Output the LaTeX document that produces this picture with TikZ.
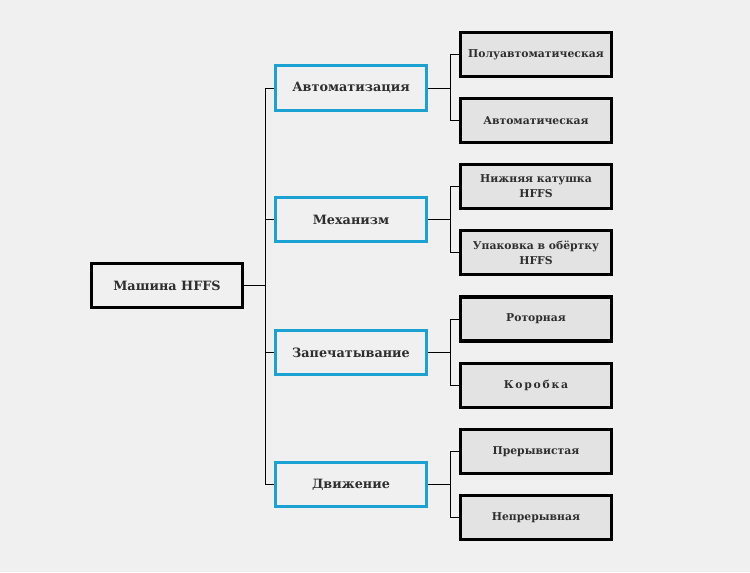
\documentclass[tikz,border=0pt]{standalone}
\usepackage{fontspec}
\setmainfont{DejaVu Serif}
\definecolor{pagegray}{HTML}{F0F0F0}
\definecolor{leafgray}{HTML}{E3E3E3}
\definecolor{branchblue}{HTML}{1BA1D2}
\definecolor{inkgray}{HTML}{2E2E2E}

\begin{document}
\begin{tikzpicture}[
  x=0.75pt,
  y=-0.75pt,
  line join=miter,
  rootbox/.style={draw=black,line width=2.4pt,fill=pagegray,text=inkgray,
    minimum width=113.5pt,minimum height=33.2pt,inner sep=0pt,
    font=\bfseries\fontsize{9.6}{11}\selectfont},
  branchbox/.style={draw=branchblue,line width=2.4pt,fill=pagegray,text=inkgray,
    minimum width=113.5pt,minimum height=33.2pt,inner sep=0pt,
    font=\bfseries\fontsize{9.6}{11}\selectfont},
  leafbox/.style={draw=black,line width=2.4pt,fill=leafgray,text=inkgray,
    minimum width=113.5pt,minimum height=33pt,inner sep=0pt,align=center,
    font=\bfseries\fontsize{8.1}{11.2}\selectfont},
  link/.style={draw=black,line width=0.7pt}
]
  % Page and margins.
  \fill[pagegray] (0,0) rectangle (750,572);
  \useasboundingbox (0,0) rectangle (750,572);

  % Root and the four branches.
  \node[rootbox] (machine) at (167,285.5) {Машина HFFS};
  \node[branchbox] (auto) at (351,88) {Автоматизация};
  \node[branchbox] (mech) at (351,219.5) {Механизм};
  \node[branchbox] (seal) at (351,352.5) {Запечатывание};
  \node[branchbox] (motion) at (351,484.5) {Движение};

  % Leaves, two per branch.
  \foreach \name/\y/\txt in {
      semi/54.5/{Полуавтоматическая},
      full/120.5/{Автоматическая},
      reel/186.5/{Нижняя катушка\\HFFS},
      wrap/252.5/{Упаковка в обёртку\\HFFS},
      rotary/319/{Роторная},
      box/385.5/{{\addfontfeature{LetterSpace=16}Коробка}},
      inter/451.5/{Прерывистая},
      cont/517.5/{Непрерывная}} {
    \node[leafbox] (\name) at (536,\y) {\txt};
  }

  % Trunk from the root to the branches.
  \coordinate (trunk) at (265,0);
  \draw[link] (machine.east) -- (machine.east -| trunk);
  \draw[link] (auto.west) -- (auto.west -| trunk) -- (motion.west -| trunk) -- (motion.west);
  \draw[link] (mech.west) -- (mech.west -| trunk);
  \draw[link] (seal.west) -- (seal.west -| trunk);

  % Forks from each branch to its leaves.
  \coordinate (fork) at (450,0);
  \foreach \b/\u/\l in {auto/semi/full,mech/reel/wrap,seal/rotary/box,motion/inter/cont} {
    \draw[link] (\b.east) -- (\b.east -| fork);
    \draw[link] (\u.west) -- (\u.west -| fork) |- (\l.west);
  }
\end{tikzpicture}
\end{document}
